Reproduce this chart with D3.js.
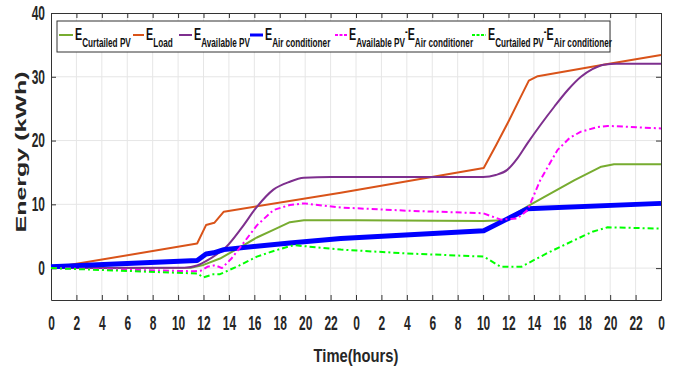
<!DOCTYPE html>
<html><head><meta charset="utf-8">
<script src="https://cdn.jsdelivr.net/npm/d3@7"></script>
<style>
body{margin:0;background:#fff;}
svg{display:block;}
text{font-family:"Liberation Sans",Arial,sans-serif;font-weight:bold;}
</style></head>
<body><svg id="c" width="679" height="374"></svg>
<script>
// ---- data (hour, kWh) ----
const xTickHours = d3.range(0, 49, 2);
const xTickLabels = xTickHours.map(h => String(h % 24));
const yTicks = [0, 10, 20, 30, 40];

const curtailedPV = [[0,0],[11,0.05],[12,0.5],[13.3,1.5],[14.9,3.3],[16.2,4.8],[17.5,6.0],[18.8,7.2],[19.9,7.5],[24,7.5],[34,7.4],[35.7,7.5],[37.7,9.9],[39.5,11.9],[41.2,13.8],[43.3,15.9],[44.3,16.3],[48,16.3]];
const loadE = [[0,0],[11.5,3.85],[12.2,6.75],[12.85,7.1],[13.6,8.85],[22.8,11.8],[34.05,15.7],[35,19.2],[36,23.0],[37,27.0],[37.6,29.4],[38.3,30.1],[43.8,32.0],[48,33.4]];
const availablePV = [[0,0],[10.5,0.05],[11.5,0.4],[12.3,1.2],[13.0,2.1],[13.8,3.35],[15,6.3],[16.2,9.6],[17.5,12.3],[18.8,13.55],[19.9,14.15],[22,14.3],[34,14.3],[35,14.6],[35.9,15.4],[36.7,17.2],[37.5,19.6],[38.5,22.4],[39.6,25.3],[40.7,28.0],[41.7,30.0],[42.6,31.2],[43.5,31.9],[44.5,32.05],[48,32.05]];
const airCond = [[0,0.2],[11.5,1.2],[12.2,2.2],[12.8,2.4],[13.6,2.9],[18.8,3.95],[22.8,4.65],[34.05,5.85],[35.8,7.6],[37.5,9.3],[48,10.15]];
const availMinusAC = [[0,0],[11.3,-0.5],[11.8,-0.4],[12.3,0.2],[12.9,0.45],[13.45,0.0],[14.2,1.5],[14.9,3.3],[16.2,6.7],[17.5,9.1],[18.8,9.9],[19.9,10.15],[22.8,9.5],[28,9.0],[34,8.6],[35.4,7.6],[36.7,7.8],[37.5,9.1],[38.5,13.8],[39.85,18.5],[40.8,20.4],[41.7,21.4],[43.0,22.1],[43.8,22.3],[48,21.9]];
const curtMinusAC = [[0,0],[11.5,-0.85],[12.0,-1.45],[12.8,-0.95],[13.3,-0.95],[14.8,0.4],[16.2,1.8],[17.7,2.8],[19.1,3.6],[22.8,2.9],[28,2.3],[34.05,1.8],[35.4,0.2],[37,0.2],[39,2.3],[41.2,4.4],[42.6,5.7],[43.8,6.4],[48,6.2]];

const series = [
  {name:"Curtailed PV", data:curtailedPV, color:"#77ac30", w:2, dash:null, smooth:false},
  {name:"Load", data:loadE, color:"#d95319", w:2, dash:null, smooth:false},
  {name:"Available PV", data:availablePV, color:"#7e2f8e", w:2, dash:null, smooth:true},
  {name:"Air conditioner", data:airCond, color:"#0000ff", w:5, dash:null, smooth:false},
  {name:"Available PV", name2:"Air conditioner", data:availMinusAC, color:"#ff00ff", w:2, dash:"6,3,2,3", smooth:false},
  {name:"Curtailed PV", name2:"Air conditioner", data:curtMinusAC, color:"#00ff00", w:2, dash:"6,3,2,3", smooth:false}
];
const legendLineX = [59, 133, 179, 250, 335, 472];
const legendTextX = [75, 146, 194, 265, 349, 488];

// ---- chart ----
const svg = d3.select("#c");
const L = 51, R = 661, T = 13, B = 300;
const SX = 0.6;
const x = d3.scaleLinear().domain([0, 48]).range([L, R]);
const y = d3.scaleLinear().domain([-5, 40]).range([B, T]);

// grid
const g = svg.append("g");
g.selectAll(".vg").data(xTickHours.slice(1, -1)).join("line")
  .attr("x1", d => x(d)).attr("x2", d => x(d)).attr("y1", T).attr("y2", B)
  .attr("stroke", "#e6e6e6").attr("stroke-width", 1);
g.selectAll(".hg").data(yTicks.slice(0, -1)).join("line")
  .attr("x1", L).attr("x2", R).attr("y1", d => y(d)).attr("y2", d => y(d))
  .attr("stroke", "#e6e6e6").attr("stroke-width", 1);

// axes
const xAxB = d3.axisBottom(x).tickValues(xTickHours).tickFormat((d, i) => xTickLabels[i]).tickSizeInner(-5).tickSizeOuter(0).tickPadding(16);
const xAxT = d3.axisTop(x).tickValues(xTickHours).tickFormat("").tickSizeInner(-5).tickSizeOuter(0);
const yAxL = d3.axisLeft(y).tickValues(yTicks).tickSizeInner(-5).tickSizeOuter(0).tickPadding(6);
const yAxR = d3.axisRight(y).tickValues(yTicks).tickFormat("").tickSizeInner(-5).tickSizeOuter(0);

function style(sel){ sel.selectAll("path,line").attr("stroke", "#333"); }
const gb = svg.append("g").attr("transform", `translate(0,${B})`).call(xAxB); style(gb);
const gt = svg.append("g").attr("transform", `translate(0,${T})`).call(xAxT); style(gt);
const gl = svg.append("g").attr("transform", `translate(${L},0)`).call(yAxL); style(gl);
const gr = svg.append("g").attr("transform", `translate(${R},0)`).call(yAxR); style(gr);
[gb, gl].forEach(s => s.selectAll("text").attr("font-size", 20).attr("fill", "#262626")
  .attr("font-family", null).attr("transform", function(){ 
    const tx = +d3.select(this).attr("x") || 0; 
    return `translate(${tx * (1 - SX)},0) scale(${SX},1)`; }));

// lines
const lineLin = d3.line().x(d => x(d[0])).y(d => y(d[1])).curve(d3.curveLinear);
const lineSm = d3.line().x(d => x(d[0])).y(d => y(d[1])).curve(d3.curveMonotoneX);
const lg = svg.append("g");
series.forEach(s => {
  lg.append("path").datum(s.data).attr("d", s.smooth ? lineSm : lineLin)
    .attr("fill", "none").attr("stroke", s.color).attr("stroke-width", s.w)
    .attr("stroke-linejoin", "round")
    .attr("stroke-dasharray", s.dash);
});

// legend
const leg = svg.append("g");
leg.append("rect").attr("x", 57).attr("y", 21).attr("width", 553).attr("height", 31)
  .attr("fill", "#fff").attr("stroke", "#333").attr("stroke-width", 1);
series.forEach((s, i) => {
  leg.append("line").attr("x1", legendLineX[i]).attr("x2", legendTextX[i] - 2).attr("y1", 35).attr("y2", 35)
    .attr("stroke", s.color).attr("stroke-width", s.w === 5 ? 3 : 2).attr("stroke-dasharray", s.dash ? "3,1.5" : null);
  const t = leg.append("text").attr("transform", `translate(${legendTextX[i]},40) scale(0.63,1)`).attr("fill", "#111");
  t.append("tspan").attr("font-size", 17).text("E");
  t.append("tspan").attr("font-size", 13).attr("dy", 7).text(s.name);
  if (s.name2) {
    t.append("tspan").attr("font-size", 13).attr("dy", -11).text("-");
    t.append("tspan").attr("font-size", 17).attr("dy", 4).text("E");
    t.append("tspan").attr("font-size", 13).attr("dy", 7).text(s.name2);
  }
});

// axis labels
svg.append("text").attr("transform", `translate(26,152) scale(0.58,1) rotate(-90)`)
  .attr("text-anchor", "middle").attr("font-size", 25).attr("fill", "#262626").text("Energy (kWh)");
svg.append("text").attr("transform", `translate(${(L + R) / 2},362) scale(0.82,1)`).attr("text-anchor", "middle")
  .attr("font-size", 18).attr("fill", "#262626").text("Time(hours)");
</script></body></html>
